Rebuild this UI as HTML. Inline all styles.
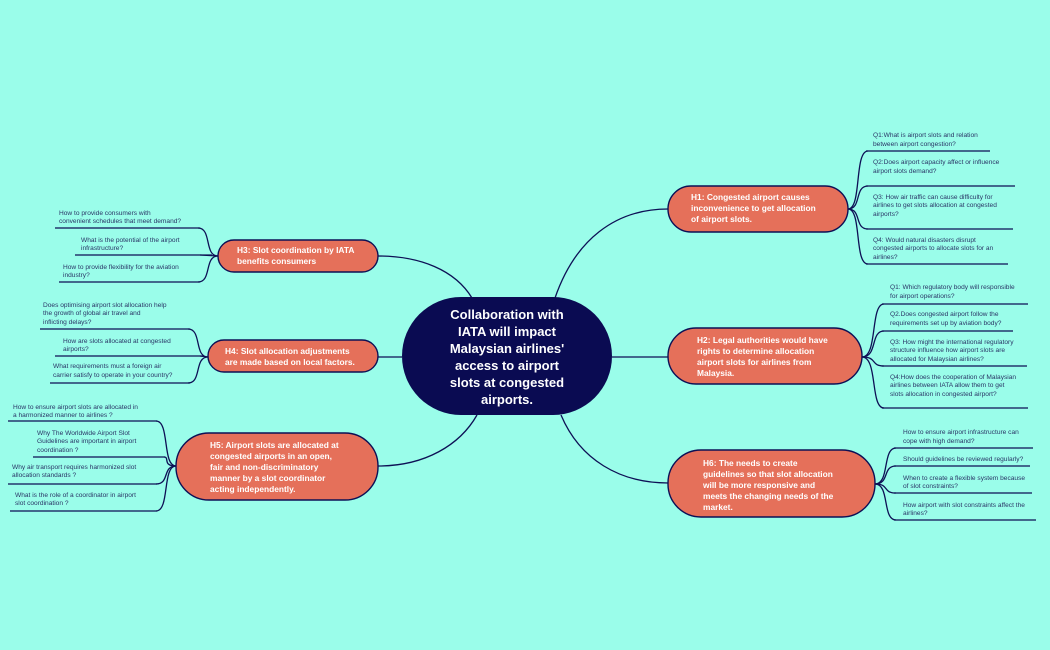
<!DOCTYPE html>
<html><head><meta charset="utf-8"><style>
html,body{margin:0;padding:0;background:#9afdea;}
svg{display:block}
text{font-family:"Liberation Sans",sans-serif;}
.s{font-size:6.6px;fill:#2a3566;}
.n{font-size:8.4px;font-weight:bold;fill:#fff;}
.c{font-size:13px;font-weight:bold;fill:#fff;text-anchor:middle;}
.l{fill:none;stroke:#0d1055;stroke-width:1.3;}
.u{stroke:#0d1055;stroke-width:1.3;}
.h{fill:#e5705a;stroke:#0d1055;stroke-width:1.4;}
</style></head><body>
<svg width="1050" height="650" viewBox="0 0 1050 650">
<rect width="1050" height="650" fill="#9afdea"/>
<!-- main connectors -->
<path class="l" d="M555,298 C575,240 615,209 668,209"/>
<path class="l" d="M612,357 L668,357"/>
<path class="l" d="M472,298 C455,270 420,256 378,256"/>
<path class="l" d="M402,357 L378,357"/>
<path class="l" d="M477,415 C460,445 425,466 378,466"/>
<path class="l" d="M561,415 C580,460 620,483 668,483"/>
<!-- H1 subs -->
<g class="l">
<path d="M848,209 C862,209 854,151 868,151"/>
<path d="M848,209 C862,209 854,186 868,186"/>
<path d="M848,209 C862,209 854,229 868,229"/>
<path d="M848,209 C862,209 854,264 868,264"/>
</g>
<line class="u" x1="866" y1="151" x2="990" y2="151"/>
<line class="u" x1="866" y1="186" x2="1015" y2="186"/>
<line class="u" x1="866" y1="229" x2="1013" y2="229"/>
<line class="u" x1="866" y1="264" x2="1008" y2="264"/>
<text class="s"><tspan x="873" y="137">Q1:What is airport slots and relation</tspan><tspan x="873" y="146">between airport congestion?</tspan>
<tspan x="873" y="164">Q2:Does airport capacity affect or influence</tspan><tspan x="873" y="173">airport slots demand?</tspan>
<tspan x="873" y="199">Q3: How air traffic can cause difficulty for</tspan><tspan x="873" y="207">airlines to get slots allocation at congested</tspan><tspan x="873" y="216">airports?</tspan>
<tspan x="873" y="242">Q4: Would natural disasters disrupt</tspan><tspan x="873" y="250">congested airports to allocate slots for an</tspan><tspan x="873" y="259">airlines?</tspan></text>
<!-- H2 subs -->
<g class="l">
<path d="M862,357 C878,357 870,304 884,304"/>
<path d="M862,357 C878,357 870,331 884,331"/>
<path d="M862,357 C878,357 870,366 884,366"/>
<path d="M862,357 C878,357 870,408 884,408"/>
</g>
<line class="u" x1="882" y1="304" x2="1028" y2="304"/>
<line class="u" x1="882" y1="331" x2="1013" y2="331"/>
<line class="u" x1="882" y1="366" x2="1027" y2="366"/>
<line class="u" x1="882" y1="408" x2="1028" y2="408"/>
<text class="s"><tspan x="890" y="289">Q1: Which regulatory body will responsible</tspan><tspan x="890" y="298">for airport operations?</tspan>
<tspan x="890" y="316">Q2.Does congested airport follow the</tspan><tspan x="890" y="325">requirements set up by aviation body?</tspan>
<tspan x="890" y="344">Q3: How might the international regulatory</tspan><tspan x="890" y="352">structure influence how airport slots are</tspan><tspan x="890" y="361">allocated for Malaysian airlines?</tspan>
<tspan x="890" y="379">Q4:How does the cooperation of Malaysian</tspan><tspan x="890" y="387">airlines between IATA allow them to get</tspan><tspan x="890" y="396">slots allocation in congested airport?</tspan></text>
<!-- H6 subs -->
<g class="l">
<path d="M875,484 C890,484 882,448 896,448"/>
<path d="M875,484 C890,484 882,466 896,466"/>
<path d="M875,484 C890,484 882,493 896,493"/>
<path d="M875,484 C890,484 882,520 896,520"/>
</g>
<line class="u" x1="894" y1="448" x2="1033" y2="448"/>
<line class="u" x1="894" y1="466" x2="1030" y2="466"/>
<line class="u" x1="894" y1="493" x2="1032" y2="493"/>
<line class="u" x1="894" y1="520" x2="1036" y2="520"/>
<text class="s"><tspan x="903" y="434">How to ensure airport infrastructure can</tspan><tspan x="903" y="443">cope with high demand?</tspan>
<tspan x="903" y="461">Should guidelines be reviewed regularly?</tspan>
<tspan x="903" y="480">When to create a flexible system because</tspan><tspan x="903" y="488">of slot constraints?</tspan>
<tspan x="903" y="507">How airport with slot constraints affect the</tspan><tspan x="903" y="515">airlines?</tspan></text>
<!-- H3 subs -->
<g class="l">
<path d="M218,256 C204,256 212,228 198,228"/>
<path d="M218,256 L200,255"/>
<path d="M218,256 C204,256 212,282 198,282"/>
</g>
<line class="u" x1="55" y1="228" x2="200" y2="228"/>
<line class="u" x1="75" y1="255" x2="212" y2="255"/>
<line class="u" x1="59" y1="282" x2="200" y2="282"/>
<text class="s"><tspan x="59" y="215">How to provide consumers with</tspan><tspan x="59" y="223">convenient schedules that meet demand?</tspan>
<tspan x="81" y="242">What is the potential of the airport</tspan><tspan x="81" y="250">infrastructure?</tspan>
<tspan x="63" y="269">How to provide flexibility for the aviation</tspan><tspan x="63" y="277">industry?</tspan></text>
<!-- H4 subs -->
<g class="l">
<path d="M208,357 C194,357 202,329 188,329"/>
<path d="M208,357 L200,356"/>
<path d="M208,357 C194,357 202,383 188,383"/>
</g>
<line class="u" x1="40" y1="329" x2="190" y2="329"/>
<line class="u" x1="55" y1="356" x2="203" y2="356"/>
<line class="u" x1="50" y1="383" x2="190" y2="383"/>
<text class="s"><tspan x="43" y="307">Does optimising airport slot allocation help</tspan><tspan x="43" y="315">the growth of global air travel and</tspan><tspan x="43" y="324">inflicting delays?</tspan>
<tspan x="63" y="343">How are slots allocated at congested</tspan><tspan x="63" y="351">airports?</tspan>
<tspan x="53" y="368">What requirements must a foreign air</tspan><tspan x="53" y="377">carrier satisfy to operate in your country?</tspan></text>
<!-- H5 subs -->
<g class="l">
<path d="M176,466 C162,466 170,421 156,421"/>
<path d="M176,466 C162,466 170,457 164,457"/>
<path d="M176,466 C162,466 170,484 156,484"/>
<path d="M176,466 C162,466 170,511 156,511"/>
</g>
<line class="u" x1="8" y1="421" x2="157" y2="421"/>
<line class="u" x1="33" y1="457" x2="165" y2="457"/>
<line class="u" x1="8" y1="484" x2="157" y2="484"/>
<line class="u" x1="10" y1="511" x2="157" y2="511"/>
<text class="s"><tspan x="13" y="409">How to ensure airport slots are allocated in</tspan><tspan x="13" y="417">a harmonized manner to airlines ?</tspan>
<tspan x="37" y="435">Why The Worldwide Airport Slot</tspan><tspan x="37" y="443">Guidelines are important in airport</tspan><tspan x="37" y="452">coordination ?</tspan>
<tspan x="12" y="469">Why air transport requires harmonized slot</tspan><tspan x="12" y="477">allocation standards ?</tspan>
<tspan x="15" y="497">What is the role of a coordinator in airport</tspan><tspan x="15" y="505">slot coordination ?</tspan></text>
<!-- nodes -->
<rect x="402" y="297" width="210" height="118" rx="59" fill="#0a0b52"/>
<text class="c"><tspan x="507" y="319">Collaboration with</tspan><tspan x="507" y="336">IATA will impact</tspan><tspan x="507" y="353">Malaysian airlines'</tspan><tspan x="507" y="370">access to airport</tspan><tspan x="507" y="387">slots at congested</tspan><tspan x="507" y="404">airports.</tspan></text>
<rect class="h" x="668" y="186" width="180" height="46" rx="23"/>
<text class="n"><tspan x="691" y="200">H1: Congested airport causes</tspan><tspan x="691" y="211">inconvenience to get allocation</tspan><tspan x="691" y="222">of airport slots.</tspan></text>
<rect class="h" x="668" y="328" width="194" height="56" rx="28"/>
<text class="n"><tspan x="697" y="343">H2: Legal authorities would have</tspan><tspan x="697" y="354">rights to determine allocation</tspan><tspan x="697" y="365">airport slots for airlines from</tspan><tspan x="697" y="376">Malaysia.</tspan></text>
<rect class="h" x="218" y="240" width="160" height="32" rx="16"/>
<text class="n"><tspan x="237" y="253">H3: Slot coordination by IATA</tspan><tspan x="237" y="264">benefits consumers</tspan></text>
<rect class="h" x="208" y="340" width="170" height="32" rx="16"/>
<text class="n"><tspan x="225" y="354">H4: Slot allocation adjustments</tspan><tspan x="225" y="365">are made based on local factors.</tspan></text>
<rect class="h" x="176" y="433" width="202" height="67" rx="33"/>
<text class="n"><tspan x="210" y="448">H5: Airport slots are allocated at</tspan><tspan x="210" y="459">congested airports in an open,</tspan><tspan x="210" y="470">fair and non-discriminatory</tspan><tspan x="210" y="481">manner by a slot coordinator</tspan><tspan x="210" y="492">acting independently.</tspan></text>
<rect class="h" x="668" y="450" width="207" height="67" rx="33"/>
<text class="n"><tspan x="703" y="466">H6: The needs to create</tspan><tspan x="703" y="477">guidelines so that slot allocation</tspan><tspan x="703" y="488">will be more responsive and</tspan><tspan x="703" y="499">meets the changing needs of the</tspan><tspan x="703" y="510">market.</tspan></text>
</svg>
</body></html>
